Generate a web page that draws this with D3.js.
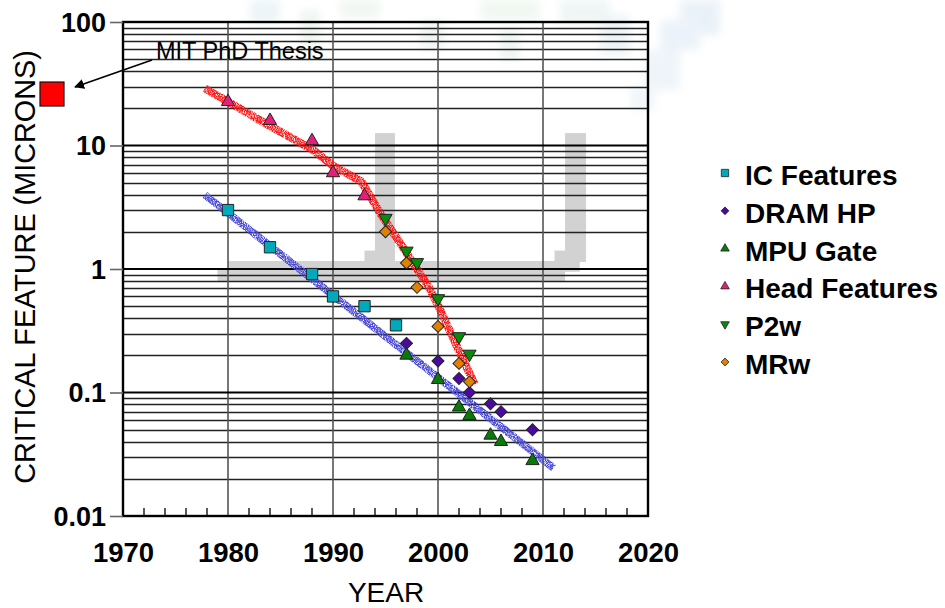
<!DOCTYPE html>
<html>
<head>
<meta charset="utf-8">
<script src="https://cdn.jsdelivr.net/npm/d3@7/dist/d3.min.js"></script>
<style>
  html, body { margin: 0; padding: 0; background: #fff; }
  svg { display: block; }
  text { font-family: "Liberation Sans", Arial, sans-serif; }
</style>
</head>
<body>
<svg id="chart" width="945" height="608"></svg>
<script>
// ---------------- data ----------------
const xTickYears = [1970, 1980, 1990, 2000, 2010, 2020];
const yTickValues = [0.01, 0.1, 1, 10, 100];
const yTickLabels = ["0.01", "0.1", "1", "10", "100"];

const icYears = [1980, 1984, 1988, 1990, 1993, 1996];
const icValues = [3.0, 1.5, 0.91, 0.6, 0.5, 0.35];

const dramYears = [1997, 2000, 2002, 2003, 2005, 2006, 2009];
const dramValues = [0.25, 0.18, 0.13, 0.10, 0.081, 0.07, 0.05];

const mpuYears = [1997, 2000, 2002, 2003, 2005, 2006, 2009];
const mpuValues = [0.20, 0.127, 0.076, 0.065, 0.045, 0.040, 0.028];

const headYears = [1980, 1984, 1988, 1990, 1993];
const headValues = [22.6, 15.9, 10.9, 6.0, 3.9];

const p2wYears = [1995, 1997, 1998, 2000, 2002, 2003];
const p2wValues = [2.58, 1.40, 1.13, 0.577, 0.284, 0.205];

const mrwYears = [1995, 1997, 1998, 2000, 2002, 2003];
const mrwValues = [2.0, 1.12, 0.71, 0.343, 0.172, 0.122];

// trend lines
const redTrendYears = [1977.8, 1983.8, 1988.1, 1990.0, 1992.7, 1994.5, 1997.0, 1999.1, 2000.0, 2001.8, 2003.5];
const redTrendValues = [29, 14.7, 9.2, 6.84, 5.1, 2.83, 1.35, 0.72, 0.51, 0.236, 0.116];
const blueTrendYears = [1977.8, 2011.0];
const blueTrendValues = [3.98, 0.0245];

// annotation
const thesisLabel = "MIT PhD Thesis";

// legend
const legendNames = ["IC Features", "DRAM HP", "MPU Gate", "Head Features", "P2w", "MRw"];

// background watermark blocks in data units [x0, x1, v0, v1]
const watermarkBlocks = [
  [1994.0, 1995.9, 12.6, 1.14],
  [2012.1, 2014.1, 12.6, 1.14],
  [1993.0, 1994.0, 1.41, 1.14],
  [2011.1, 2012.1, 1.41, 1.14],
  [1980.0, 2013.5, 1.16, 0.95],
  [1979.0, 2012.1, 0.985, 0.79]
];

// ---------------- layout ----------------
const svg = d3.select("#chart");
const L = 123, R = 648, T = 22, B = 516;

const x = d3.scaleLinear().domain([1970, 2020]).range([L, R]);
const y = d3.scaleLog().domain([0.01, 100]).range([B, T]);

// filters for grainy trend lines
const defs = svg.append("defs");
const f = defs.append("filter").attr("id", "grain")
  .attr("x", "-5%").attr("y", "-5%").attr("width", "110%").attr("height", "110%");
f.append("feTurbulence").attr("type", "fractalNoise").attr("baseFrequency", "1.1")
  .attr("numOctaves", 1).attr("seed", 3).attr("result", "noise");
f.append("feColorMatrix").attr("in", "noise").attr("type", "matrix")
  .attr("values", "0 0 0 0 0  0 0 0 0 0  0 0 0 0 0  3.2 0 0 0 -0.85").attr("result", "mask");
f.append("feComposite").attr("in", "SourceGraphic").attr("in2", "mask").attr("operator", "in");

const blur = defs.append("filter").attr("id", "soft");
blur.append("feGaussianBlur").attr("stdDeviation", 4);

// faint top watermark
const topMarks = svg.append("g").attr("opacity", 0.45).attr("filter", "url(#soft)");
[[250, 0, 30, 22, "#d6e8ee"], [300, 10, 20, 40, "#dcece0"], [340, 0, 40, 18, "#e0ede2"],
 [420, 20, 25, 30, "#dcebe4"], [480, 0, 60, 20, "#e0efe2"], [500, 30, 20, 30, "#dae9e4"],
 [560, 0, 50, 25, "#dcebea"], [600, 15, 30, 40, "#d8e6ee"], [680, 0, 40, 20, "#d2e2f0"],
 [660, 20, 40, 30, "#d6e4f2"], [645, 50, 35, 40, "#dae8f2"], [630, 85, 25, 25, "#e0ecf4"],
 [700, 10, 20, 25, "#d0e0f0"]]
  .forEach(b => topMarks.append("rect").attr("x", b[0]).attr("y", b[1])
    .attr("width", b[2]).attr("height", b[3]).attr("fill", b[4]));

// gray watermark in plot
svg.append("g").selectAll("rect").data(watermarkBlocks).join("rect")
  .attr("x", d => x(d[0])).attr("width", d => x(d[1]) - x(d[0]))
  .attr("y", d => y(d[2])).attr("height", d => y(d[3]) - y(d[2]))
  .attr("fill", "#d2d2d2");

// horizontal grid lines
const minorVals = [];
for (let e = -2; e < 2; e++) for (let m = 2; m <= 9; m++) minorVals.push(m * Math.pow(10, e));
svg.append("g").selectAll("line").data(minorVals).join("line")
  .attr("x1", L).attr("x2", R)
  .attr("y1", d => Math.round(y(d)) + 0.5).attr("y2", d => Math.round(y(d)) + 0.5)
  .attr("stroke", "#222").attr("stroke-width", 1.3);

// vertical grid lines
svg.append("g").selectAll("line").data(xTickYears.slice(1, -1)).join("line")
  .attr("x1", d => x(d)).attr("x2", d => x(d)).attr("y1", T).attr("y2", B)
  .attr("stroke", "#555").attr("stroke-width", 1.6);

// major decade lines
svg.append("g").selectAll("line").data(yTickValues).join("line")
  .attr("x1", L).attr("x2", R).attr("y1", d => y(d)).attr("y2", d => y(d))
  .attr("stroke", "#000").attr("stroke-width", 2.2);

// frame
svg.append("rect").attr("x", L).attr("y", T).attr("width", R - L).attr("height", B - T)
  .attr("fill", "none").attr("stroke", "#000").attr("stroke-width", 2.4);

// y axis
const yAxis = d3.axisLeft(y).tickValues(yTickValues)
  .tickFormat((d, i) => yTickLabels[i]).tickSize(13).tickPadding(4);
const gy = svg.append("g").attr("transform", `translate(${L},0)`).call(yAxis);
gy.select(".domain").remove();
gy.selectAll(".tick line").attr("stroke", "#666").attr("stroke-width", 1.6);
gy.selectAll(".tick text").attr("font-size", 27).attr("font-weight", "bold")
  .attr("fill", "#000").attr("font-family", "'Liberation Sans', Arial, sans-serif")
  .attr("dy", "0.34em");

// x axis (labels)
const xAxis = d3.axisBottom(x).tickValues(xTickYears).tickFormat(d3.format("d"))
  .tickSize(0).tickPadding(26);
const gx = svg.append("g").attr("transform", `translate(0,${B})`).call(xAxis);
gx.select(".domain").remove();
gx.selectAll(".tick text").attr("font-size", 27.5).attr("font-weight", "bold")
  .attr("fill", "#000").attr("font-family", "'Liberation Sans', Arial, sans-serif");

// x minor ticks (every 2 years)
const minorYears = d3.range(1972, 2020, 2).filter(d => d % 10 !== 0);
svg.append("g").selectAll("line").data(minorYears).join("line")
  .attr("x1", d => x(d)).attr("x2", d => x(d)).attr("y1", B).attr("y2", B - 8)
  .attr("stroke", "#000").attr("stroke-width", 1.3);

// axis titles
svg.append("text").attr("x", 386).attr("y", 602).attr("text-anchor", "middle")
  .attr("font-size", 28).attr("fill", "#000").text("YEAR");
svg.append("text").attr("transform", "translate(35,267) rotate(-90)")
  .attr("text-anchor", "middle").attr("font-size", 28.8).attr("fill", "#000")
  .text("CRITICAL FEATURE (MICRONS)");

// trend lines
const line = d3.line().x(d => x(d[0])).y(d => y(d[1]));
svg.append("path").datum(redTrendYears.map((yr, i) => [yr, redTrendValues[i]]))
  .attr("d", line).attr("fill", "none").attr("stroke", "#ff1414")
  .attr("stroke-width", 8).attr("stroke-linejoin", "round").attr("filter", "url(#grain)");
svg.append("path").datum(blueTrendYears.map((yr, i) => [yr, blueTrendValues[i]]))
  .attr("d", line).attr("fill", "none").attr("stroke", "#4848d8")
  .attr("stroke-width", 7.5).attr("filter", "url(#grain)");

// series markers
const series = [
  { name: "IC Features", years: icYears, values: icValues, fill: "#00aabb", shape: d3.symbolSquare, size: 128, rot: 0 },
  { name: "DRAM HP", years: dramYears, values: dramValues, fill: "#4a0aa0", shape: d3.symbolSquare, size: 72, rot: 45 },
  { name: "MPU Gate", years: mpuYears, values: mpuValues, fill: "#087a08", shape: d3.symbolTriangle, size: 76, rot: 0 },
  { name: "Head Features", years: headYears, values: headValues, fill: "#e2207a", shape: d3.symbolTriangle, size: 76, rot: 0 },
  { name: "P2w", years: p2wYears, values: p2wValues, fill: "#0a8a0a", shape: d3.symbolTriangle, size: 76, rot: 180 },
  { name: "MRw", years: mrwYears, values: mrwValues, fill: "#e08200", shape: d3.symbolSquare, size: 72, rot: 45 }
];

series.forEach(s => {
  svg.append("g").selectAll("path").data(s.years.map((yr, i) => [yr, s.values[i]])).join("path")
    .attr("d", d3.symbol().type(s.shape).size(s.size))
    .attr("transform", d => `translate(${x(d[0])},${y(d[1])}) rotate(${s.rot})`)
    .attr("fill", s.fill).attr("stroke", "#222").attr("stroke-width", 1);
});

// legend
const lg = svg.append("g");
series.forEach((s, i) => {
  const by = 185 + i * 37.8;
  lg.append("path").attr("d", d3.symbol().type(s.shape).size(s.size * 0.42))
    .attr("transform", `translate(725,${by - 12}) rotate(${s.rot})`)
    .attr("fill", s.fill).attr("stroke", "#222").attr("stroke-width", 0.8);
  lg.append("text").attr("x", 745).attr("y", by).attr("font-size", 28)
    .attr("font-weight", "bold").attr("fill", "#000").text(legendNames[i]);
});

// annotation: MIT PhD Thesis
svg.append("rect").attr("x", 40).attr("y", 82).attr("width", 24).attr("height", 24)
  .attr("fill", "#ff0000").attr("stroke", "#111").attr("stroke-width", 1.2);
defs.append("marker").attr("id", "arrow").attr("viewBox", "0 0 10 10")
  .attr("refX", 9).attr("refY", 5).attr("markerWidth", 10).attr("markerHeight", 10)
  .attr("markerUnits", "userSpaceOnUse").attr("orient", "auto")
  .append("path").attr("d", "M0,0 L10,5 L0,10 z").attr("fill", "#000");
svg.append("line").attr("x1", 152).attr("y1", 60).attr("x2", 75).attr("y2", 87)
  .attr("stroke", "#000").attr("stroke-width", 1.6).attr("marker-end", "url(#arrow)");
svg.append("text").attr("x", 156).attr("y", 59).attr("font-size", 23.5)
  .attr("fill", "#000").text(thesisLabel);
</script>
</body>
</html>
